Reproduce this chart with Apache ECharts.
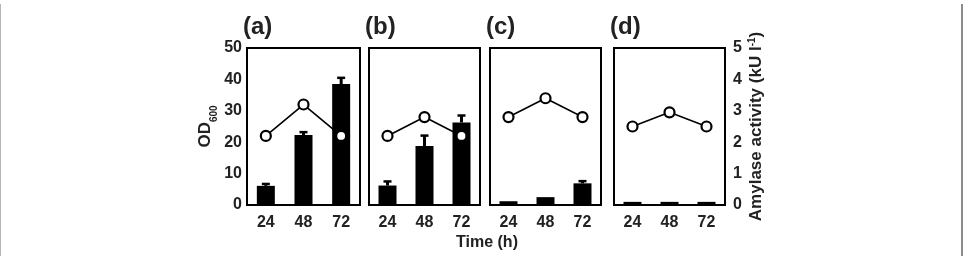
<!DOCTYPE html>
<html>
<head>
<meta charset="utf-8">
<script src="https://cdn.jsdelivr.net/npm/echarts@6/dist/echarts.min.js"></script>
<style>
  html, body { margin: 0; padding: 0; background: #fff; }
  #main { width: 965px; height: 256px; }
</style>
</head>
<body>
<div id="main"></div>
<script>
var categories = ['24', '48', '72'];
var panels = ['(a)', '(b)', '(c)', '(d)'];

// OD600 bars (left axis) and upper error
var odA = [6.1, 22.3, 38.5];
var odB = [6.2, 18.8, 26.3];
var odC = [1.2, 2.5, 6.9];
var odD = [1.0, 1.0, 1.0];
var errA = [0.6, 0.9, 2.0];
var errB = [1.3, 3.3, 2.2];
var errC = [0, 0, 0.7];
var errD = [0, 0, 0];

// amylase activity (right axis)
var amyA = [2.2, 3.2, 2.2];
var amyB = [2.2, 2.8, 2.2];
var amyC = [2.8, 3.4, 2.8];
var amyD = [2.5, 2.95, 2.5];

var leftTicks = [0, 10, 20, 30, 40, 50];
var rightTicks = [0, 1, 2, 3, 4, 5];

var od = [odA, odB, odC, odD];
var err = [errA, errB, errC, errD];
var amy = [amyA, amyB, amyC, amyD];

var chart = echarts.init(document.getElementById('main'));
var font = 'Liberation Sans, Arial, sans-serif';
var gridLeft = [247, 369, 490, 614];
var gridW = [113, 111, 111, 111];

var grids = [], xAxes = [], yAxes = [], series = [], graphics = [];

for (var i = 0; i < 4; i++) {
  grids.push({
    left: gridLeft[i], top: 48, width: gridW[i], height: 157,
    show: true, borderColor: '#000', borderWidth: 2, backgroundColor: 'transparent'
  });
  xAxes.push({
    type: 'category', gridIndex: i, data: categories,
    axisLine: { lineStyle: { color: '#000', width: 2 } },
    axisTick: { inside: true, length: 4, lineStyle: { color: '#000', width: 2 } },
    axisLabel: { color: '#222', fontFamily: font, fontWeight: 'bold', fontSize: 16, margin: 10 }
  });
  yAxes.push({
    type: 'value', gridIndex: i, min: 0, max: 50, interval: 10, position: 'left',
    splitLine: { show: false },
    axisLine: { show: true, lineStyle: { color: '#000', width: 2 } },
    axisTick: { inside: true, length: 4, lineStyle: { color: '#000', width: 2 } },
    axisLabel: { show: i === 0, color: '#222', fontFamily: font, fontWeight: 'bold', fontSize: 16, margin: 5,
      formatter: function (v) { return leftTicks.indexOf(v) >= 0 ? String(v) : ''; } },
    name: i === 0 ? '{a|OD}{s|600}' : '',
    nameLocation: 'middle', nameRotate: 90, nameGap: 28,
    nameTextStyle: { rich: {
      a: { fontFamily: font, fontWeight: 'bold', fontSize: 17, color: '#222', lineHeight: 22, verticalAlign: 'top' },
      s: { fontFamily: font, fontWeight: 'bold', fontSize: 10, color: '#222', lineHeight: 10, verticalAlign: 'bottom' }
    } }
  });
  yAxes.push({
    type: 'value', gridIndex: i, min: 0, max: 5, interval: 1, position: 'right',
    splitLine: { show: false },
    axisLine: { show: true, lineStyle: { color: '#000', width: 2 } },
    axisTick: { inside: true, length: 4, lineStyle: { color: '#000', width: 2 } },
    axisLabel: { show: i === 3, color: '#222', fontFamily: font, fontWeight: 'bold', fontSize: 16, margin: 8,
      formatter: function (v) { return rightTicks.indexOf(v) >= 0 ? String(v) : ''; } },
    name: i === 3 ? '{a|Amylase activity (kU l}{s|-1}{a|)}' : '',
    nameLocation: 'middle', nameRotate: 90, nameGap: 22,
    nameTextStyle: { rich: {
      a: { fontFamily: font, fontWeight: 'bold', fontSize: 17, color: '#222' },
      s: { fontFamily: font, fontWeight: 'bold', fontSize: 10, color: '#222', padding: [0, 0, 9, 0] }
    } }
  });

  series.push({
    type: 'bar', xAxisIndex: i, yAxisIndex: 2 * i, data: od[i],
    barWidth: 18, itemStyle: { color: '#000' }, z: 2
  });

  var errData = [];
  for (var j = 0; j < categories.length; j++) {
    if (err[i][j] > 0) errData.push([j, od[i][j], od[i][j] + err[i][j]]);
  }
  series.push({
    type: 'custom', xAxisIndex: i, yAxisIndex: 2 * i, data: errData, z: 3,
    renderItem: function (params, api) {
      var base = api.coord([api.value(0), api.value(1)]);
      var top = api.coord([api.value(0), api.value(2)]);
      return {
        type: 'group',
        children: [
          { type: 'line', shape: { x1: base[0], y1: base[1], x2: top[0], y2: top[1] },
            style: { stroke: '#000', lineWidth: 3 } },
          { type: 'line', shape: { x1: top[0] - 4, y1: top[1], x2: top[0] + 4, y2: top[1] },
            style: { stroke: '#000', lineWidth: 2.5 } }
        ]
      };
    }
  });

  series.push({
    type: 'line', xAxisIndex: i, yAxisIndex: 2 * i + 1, data: amy[i],
    symbol: 'circle', symbolSize: 10,
    lineStyle: { color: '#000', width: 1.6 },
    itemStyle: { color: '#fff', borderColor: '#000', borderWidth: 2.2 },
    z: 5
  });

  graphics.push({
    type: 'text', left: gridLeft[i] - 4, top: 15,
    style: { text: panels[i], font: 'bold 24px ' + font, fill: '#222' }
  });
}

graphics.push({
  type: 'text', x: 487, y: 243,
  style: { text: 'Time (h)', font: 'bold 16px ' + font, fill: '#222', align: 'center', verticalAlign: 'middle' }
});
// image frame
graphics.push({
  type: 'line', shape: { x1: 0.5, y1: 4, x2: 0.5, y2: 256 },
  style: { stroke: '#b5b5b5', lineWidth: 1 }
});
graphics.push({
  type: 'line', shape: { x1: 962, y1: 4, x2: 962, y2: 256 },
  style: { stroke: '#666', lineWidth: 1.5 }
});

chart.setOption({
  animation: false,
  backgroundColor: '#fff',
  grid: grids,
  xAxis: xAxes,
  yAxis: yAxes,
  series: series,
  graphic: graphics
});
</script>
</body>
</html>
